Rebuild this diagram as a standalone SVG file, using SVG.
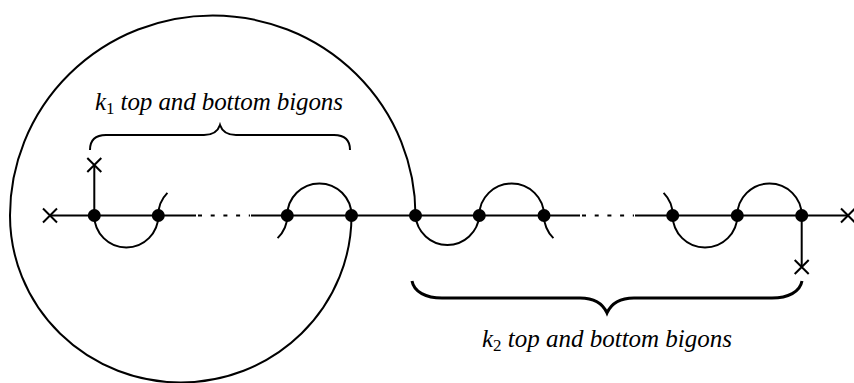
<svg xmlns="http://www.w3.org/2000/svg" width="854" height="383" viewBox="0 0 854 383">
<style>
.ln{fill:none;stroke:#000;stroke-width:2;stroke-linecap:butt}
.dot{fill:#000}
.lbl{font-family:"Liberation Serif","DejaVu Serif",serif;font-style:italic;font-size:25px;fill:#000}
.sub{font-style:normal;font-size:17px}
</style>
<rect width="854" height="383" fill="#fff"/>
<g id="connectors">
  <path class="ln" d="M50,215.5 H196 M251,215.5 H580 M635,215.5 H848"/>
  <path class="ln" d="M198,215.5 H250 M582,215.5 H634" stroke-dasharray="4 8.7"/>
  <path class="ln" d="M94.3,215.5 V165 M801.7,215.5 V267"/>
  <path class="ln" d="M94.3,215.5 A32,32 0 0 0 158.3,215.5"/>
  <path class="ln" d="M158.3,215.5 A32,32 0 0 1 167.4,192.9"/>
  <path class="ln" d="M287.3,215.5 A32,32 0 0 1 277.6,238.1"/>
  <path class="ln" d="M287.3,215.5 A32,32 0 0 1 351.5,215.5"/>
  <path class="ln" d="M351.5,215.5 A170.75,167 0 0 1 10,215.5 A202.75,200 0 0 1 415.5,215.5"/>
  <path class="ln" d="M415.5,215.5 A32,32 0 0 0 479.3,215.5"/>
  <path class="ln" d="M479.3,215.5 A32.35,32 0 0 1 544,215.5"/>
  <path class="ln" d="M544,215.5 A32,32 0 0 0 553.4,238.1"/>
  <path class="ln" d="M672.7,215.5 A32,32 0 0 0 663.6,192.9"/>
  <path class="ln" d="M672.7,215.5 A32.3,32 0 0 0 737.3,215.5"/>
  <path class="ln" d="M737.3,215.5 A32.2,32 0 0 1 801.7,215.5"/>
  <path class="ln" d="M90,150 C90,140 96,135 106,135 L204,135 C213,135 218,131 220,125 C222,131 227,135 236,135 L334,135 C344,135 350,140 350,150"/>
  <path class="ln" style="stroke-width:3" d="M412,281 C414,292 426,298 442,298 L580,298 C594,298 603,304 607,313 C611,304 620,298 634,298 L772,298 C788,298 800,292 802,281"/>
</g>
<g id="crosses">
  <path class="ln" d="M43,208.5 L57,222.5 M57,208.5 L43,222.5"/>
  <path class="ln" d="M87.3,158 L101.3,172 M101.3,158 L87.3,172"/>
  <path class="ln" d="M794.7,260 L808.7,274 M808.7,260 L794.7,274"/>
  <path class="ln" d="M841,208.5 L855,222.5 M855,208.5 L841,222.5"/>
</g>
<g id="nodes">
  <circle class="dot" cx="94.3" cy="215.5" r="6.5"/>
  <circle class="dot" cx="158.3" cy="215.5" r="6.5"/>
  <circle class="dot" cx="287.3" cy="215.5" r="6.5"/>
  <circle class="dot" cx="351.5" cy="215.5" r="6.5"/>
  <circle class="dot" cx="415.5" cy="215.5" r="6.5"/>
  <circle class="dot" cx="479.3" cy="215.5" r="6.5"/>
  <circle class="dot" cx="544" cy="215.5" r="6.5"/>
  <circle class="dot" cx="672.7" cy="215.5" r="6.5"/>
  <circle class="dot" cx="737.3" cy="215.5" r="6.5"/>
  <circle class="dot" cx="801.7" cy="215.5" r="6.5"/>
</g>
<g id="label1">
  <text class="lbl" x="95" y="109.5" textLength="248" lengthAdjust="spacing">k<tspan class="sub" dy="4">1</tspan><tspan dy="-4"> top and bottom bigons</tspan></text>
</g>
<g id="label2">
  <text class="lbl" x="482" y="346.5" textLength="250" lengthAdjust="spacing">k<tspan class="sub" dy="4">2</tspan><tspan dy="-4"> top and bottom bigons</tspan></text>
</g>
</svg>
